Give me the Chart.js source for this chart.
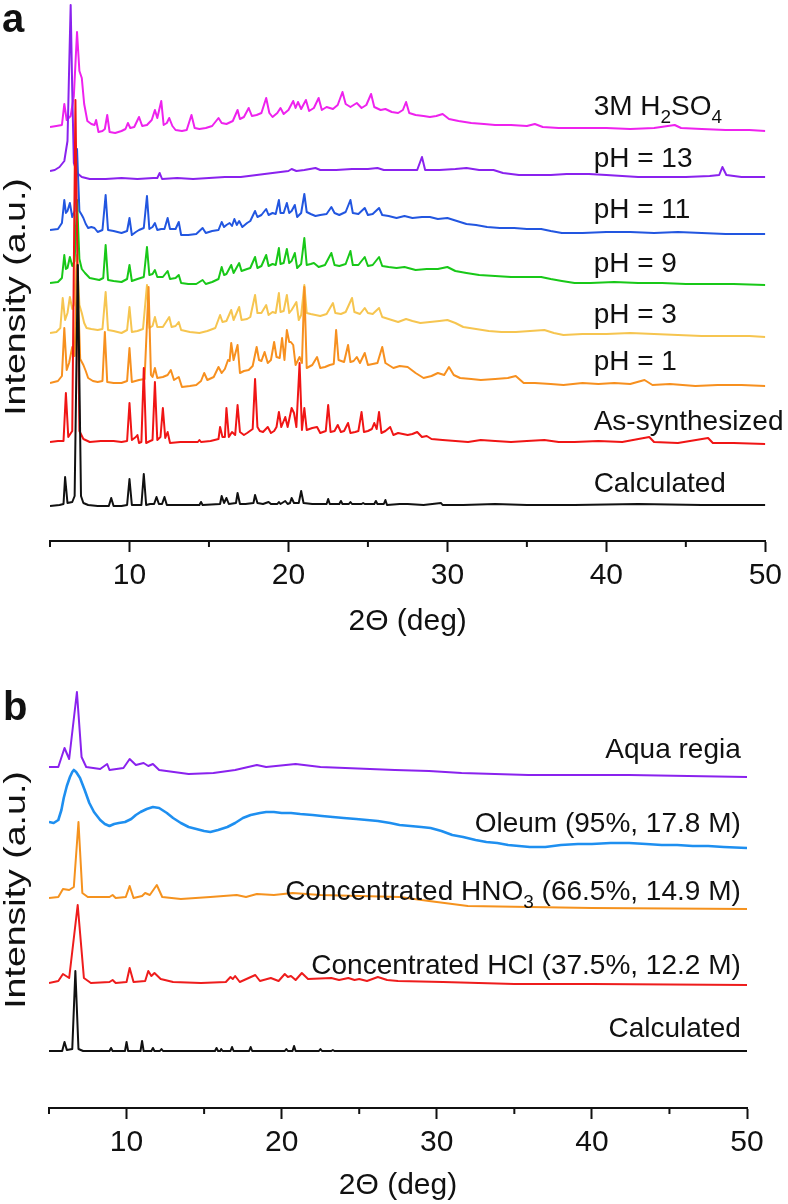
<!DOCTYPE html>
<html><head><meta charset="utf-8">
<script src="https://cdn.jsdelivr.net/npm/chart.js@4.4.1/dist/chart.umd.min.js"></script>
<style>
html,body{margin:0;padding:0;background:#fff;}
#wrap{position:relative;width:788px;height:1204px;overflow:hidden;background:#fff;}
#ca{position:absolute;left:0;top:0;}
#cb{position:absolute;left:0;top:660px;}
</style></head><body>
<div id="wrap">
<canvas id="ca" width="788" height="660"></canvas>
<canvas id="cb" width="788" height="544"></canvas>
</div>
<script>
// ---------- axis ----------
const thetaMin = 5, thetaMax = 50;
const tickStep = 5;
const labelledTicks = [10, 20, 30, 40, 50];
const xTitle = '2\u0398 (deg)';
const yTitle = 'Intensity (a.u.)';

// ---------- panel a : [2theta, stacked intensity] ----------
const a_calculated = [[5,35],[5.6,36],[5.85,37],[5.95,64],[6.1,38],[6.4,39],[6.55,45],[6.75,276],[6.95,45],[7.1,38],[7.4,36],[8.0,35],[8.7,35],[8.85,43],[9.0,35],[9.5,35],[9.85,36],[10.0,62],[10.15,36],[10.5,36],[10.75,36],[10.9,67],[11.05,36],[11.3,37],[11.55,37],[11.7,44],[11.85,37],[12.05,37],[12.2,44],[12.35,36],[13.0,36],[14.4,36],[14.5,39],[14.6,36],[15.7,37],[15.8,45],[15.95,38],[16.1,43],[16.25,37],[16.7,38],[16.8,48],[16.95,37],[17.3,37],[17.8,38],[17.9,46],[18.05,38],[18.4,37],[18.75,39],[18.9,37],[19.3,37],[19.4,39],[19.5,37],[19.8,40],[19.95,37],[20.1,38],[20.2,43],[20.35,38],[20.65,38],[20.8,50],[20.95,38],[21.5,37],[22.4,37],[22.5,42],[22.6,37],[23.2,37],[23.3,40],[23.4,37],[23.8,37],[23.9,39],[24.0,37],[24.6,37],[24.7,38],[24.8,37],[25.4,37],[25.5,40],[25.6,37],[26.0,37],[26.1,41],[26.2,36],[27.0,37],[27.5,37],[28.5,36],[29.6,38],[29.7,36],[31,36],[33,37],[35,36],[38,36],[42,37],[46,36],[50,36]];
const a_asSynthesized = [[5,99],[5.5,100],[5.85,100],[6.0,148],[6.15,104],[6.4,110],[6.6,441],[6.85,110],[7.1,102],[7.5,99],[8.2,100],[9.0,100],[9.5,99],[9.85,100],[10.0,138],[10.15,101],[10.4,104],[10.5,106],[10.6,98],[10.75,99],[10.9,173],[11.05,98],[11.3,100],[11.45,101],[11.6,159],[11.75,101],[11.95,104],[12.1,133],[12.25,103],[12.4,109],[12.55,98],[13.2,99],[14.3,99],[14.4,101],[14.5,99],[15.1,100],[15.6,102],[15.7,114],[15.85,104],[16.0,104],[16.1,133],[16.25,104],[16.45,109],[16.65,106],[16.8,136],[16.95,109],[17.2,106],[17.4,108],[17.75,112],[17.9,162],[18.05,114],[18.2,110],[18.4,109],[18.7,114],[18.9,108],[19.1,110],[19.25,114],[19.4,129],[19.55,114],[19.8,124],[19.95,114],[20.2,133],[20.35,128],[20.5,114],[20.7,178],[20.85,111],[21.0,133],[21.15,111],[21.5,113],[21.8,114],[22.0,108],[22.35,110],[22.5,136],[22.65,109],[22.9,110],[23.1,116],[23.3,109],[23.5,110],[23.75,118],[23.9,108],[24.2,109],[24.4,110],[24.6,129],[24.75,109],[25.0,110],[25.25,112],[25.4,118],[25.55,112],[25.7,129],[25.85,108],[26.1,110],[26.4,114],[26.6,106],[26.9,108],[27.2,107],[27.5,106],[27.8,107],[28.1,109],[28.4,104],[28.7,105],[29.0,102],[29.7,101],[30.5,100],[31.3,99],[32.1,101],[33,100],[34,99],[35,100],[36.1,101],[37,99],[38,99],[39.5,100],[41,99],[42.7,104],[43,99],[44.5,98],[46.4,103],[46.7,98],[48,98],[50,97]];
const a_pH1 = [[5,158],[5.5,160],[5.75,165],[5.9,213],[6.05,171],[6.2,178],[6.4,194],[6.55,185],[6.7,276],[6.9,182],[7.1,176],[7.25,170],[7.4,163],[7.7,160],[8.0,159],[8.3,160],[8.45,209],[8.6,159],[9.0,158],[9.5,158],[9.85,160],[10.0,193],[10.15,159],[10.6,161],[10.95,162],[11.2,254],[11.35,166],[11.45,164],[11.6,173],[11.75,163],[12.1,164],[12.4,166],[12.6,171],[12.8,161],[13.1,164],[13.3,154],[13.8,155],[14.2,156],[14.5,160],[14.7,168],[14.9,161],[15.3,164],[15.6,174],[15.8,168],[16.0,172],[16.2,181],[16.3,180],[16.4,198],[16.55,181],[16.8,196],[16.95,168],[17.2,170],[17.5,171],[17.75,175],[18.0,194],[18.15,181],[18.3,180],[18.5,189],[18.7,178],[18.9,181],[19.1,199],[19.25,184],[19.45,183],[19.6,203],[19.75,181],[19.9,211],[20.05,199],[20.15,199],[20.3,196],[20.45,176],[20.7,184],[20.85,178],[21.0,254],[21.15,173],[21.5,176],[21.8,184],[22.0,173],[22.3,174],[22.6,176],[22.85,177],[23.0,211],[23.15,181],[23.5,179],[23.75,196],[23.9,179],[24.1,180],[24.3,184],[24.5,178],[24.8,188],[25.0,176],[25.3,177],[25.6,178],[25.9,194],[26.1,178],[26.6,173],[27.0,175],[27.5,174],[28.0,168],[28.5,163],[29.0,165],[29.4,168],[29.8,166],[30.1,174],[30.4,166],[30.8,163],[31.5,162],[32.1,161],[33.0,162],[33.8,163],[34.3,165],[34.8,158],[35.5,158],[36.5,157],[37.3,156],[38.5,158],[39.5,157],[40.5,158],[41.5,157],[42.4,161],[42.9,156],[44,157],[45.6,155],[47,156],[48.5,156],[50,155]];
const a_pH3 = [[5,208],[5.4,209],[5.65,213],[5.8,243],[5.95,221],[6.1,228],[6.25,244],[6.4,232],[6.5,236],[6.7,286],[6.85,236],[7.0,228],[7.15,218],[7.3,213],[7.6,212],[8.0,211],[8.3,212],[8.5,249],[8.65,211],[9.0,210],[9.5,208],[9.85,211],[10.0,234],[10.15,209],[10.5,210],[10.85,212],[11.1,256],[11.25,213],[11.45,215],[11.6,224],[11.75,214],[12.1,214],[12.5,224],[12.65,214],[12.9,215],[13.1,219],[13.25,211],[13.8,209],[14.4,208],[14.9,210],[15.4,213],[15.7,226],[15.85,219],[16.1,220],[16.4,231],[16.55,221],[16.9,234],[17.05,221],[17.4,222],[17.6,224],[17.9,246],[18.05,228],[18.3,228],[18.6,236],[18.75,226],[19.0,229],[19.2,228],[19.4,248],[19.5,229],[19.7,230],[19.9,246],[20.05,228],[20.2,231],[20.5,239],[20.65,221],[20.8,226],[21.0,256],[21.15,228],[21.4,227],[21.7,226],[22.0,225],[22.4,227],[22.8,238],[22.95,228],[23.3,227],[23.6,229],[24.0,243],[24.15,229],[24.5,227],[24.8,233],[25.0,228],[25.3,227],[25.7,233],[25.9,224],[26.3,222],[26.9,219],[27.4,222],[27.8,220],[28.3,218],[28.9,219],[29.5,220],[30.0,221],[30.5,218],[31.0,214],[31.8,212],[32.6,210],[33.4,209],[34.3,209],[35.2,210],[36.1,211],[36.7,208],[37.3,206],[38.5,207],[40,207],[41.5,208],[43,207],[44.5,206],[46,205],[47.5,205],[49,205],[50,204]];
const a_pH9 = [[5,258],[5.5,259],[5.75,263],[5.9,286],[6.0,272],[6.1,273],[6.25,284],[6.4,275],[6.55,280],[6.7,341],[6.85,282],[7.0,272],[7.2,268],[7.5,263],[7.8,262],[8.1,261],[8.35,263],[8.5,296],[8.65,261],[9.0,260],[9.5,259],[9.85,262],[10.0,276],[10.15,260],[10.5,262],[10.9,264],[11.1,294],[11.25,266],[11.45,267],[11.6,271],[11.75,264],[12.1,264],[12.4,270],[12.55,262],[12.9,263],[13.1,266],[13.25,258],[13.7,257],[14.2,257],[14.6,261],[14.8,257],[15.2,259],[15.6,262],[15.8,274],[15.95,266],[16.1,267],[16.4,276],[16.55,268],[16.9,278],[17.05,270],[17.4,272],[17.6,273],[17.9,284],[18.05,273],[18.3,275],[18.6,286],[18.75,275],[19.0,277],[19.2,276],[19.4,293],[19.5,277],[19.7,278],[19.9,292],[20.05,278],[20.2,280],[20.4,288],[20.55,273],[20.8,277],[21.0,303],[21.15,276],[21.4,277],[21.6,278],[21.9,274],[22.3,276],[22.7,288],[22.9,276],[23.2,275],[23.6,277],[23.9,290],[24.05,276],[24.4,276],[24.8,284],[25.0,275],[25.3,276],[25.7,284],[25.9,275],[26.3,274],[26.8,273],[27.3,274],[28.0,271],[28.7,272],[29.4,272],[30.0,274],[30.5,270],[31.2,268],[32.0,266],[33.0,265],[34.0,264],[35.0,264],[35.9,264],[36.5,262],[37.2,260],[38.0,258],[39,258],[40.5,259],[42,258],[43.5,258],[45,257],[46.5,257],[48,257],[50,256]];
const a_pH11 = [[5,311],[5.5,312],[5.75,318],[5.9,341],[6.0,328],[6.1,330],[6.25,338],[6.4,324],[6.55,330],[6.7,392],[6.85,330],[7.0,326],[7.1,323],[7.25,317],[7.4,313],[7.6,314],[7.8,313],[8.0,309],[8.3,311],[8.5,346],[8.65,311],[9.0,310],[9.5,308],[9.85,310],[10.0,323],[10.15,306],[10.4,309],[10.6,311],[10.9,313],[11.1,345],[11.25,312],[11.45,314],[11.6,318],[11.75,311],[12.0,312],[12.2,312],[12.4,323],[12.55,312],[12.9,312],[13.1,319],[13.25,306],[13.7,306],[14.2,307],[14.6,313],[14.8,308],[15.2,310],[15.6,311],[15.8,319],[15.95,314],[16.1,316],[16.3,318],[16.45,315],[16.6,322],[16.75,316],[16.9,320],[17.1,314],[17.4,318],[17.6,320],[17.9,330],[18.05,324],[18.3,326],[18.6,332],[18.75,326],[19.0,328],[19.2,327],[19.4,341],[19.5,328],[19.7,328],[19.9,338],[20.05,328],[20.2,330],[20.4,336],[20.55,324],[20.8,328],[21.0,347],[21.15,329],[21.4,327],[21.7,325],[22.0,326],[22.4,327],[22.7,334],[22.9,328],[23.2,326],[23.6,329],[23.9,341],[24.05,328],[24.4,327],[24.8,333],[25.0,326],[25.3,327],[25.7,333],[25.9,326],[26.3,325],[26.8,323],[27.3,325],[27.8,323],[28.4,324],[28.9,324],[29.4,322],[30.0,323],[30.6,320],[31.2,317],[31.8,316],[32.5,314],[33.3,313],[34.2,313],[35.0,312],[35.9,312],[36.5,310],[37.2,308],[38.5,308],[40,309],[41.5,309],[43,308],[44.5,309],[46,308],[47.5,307],[49,307],[50,307]];
const a_pH13 = [[5,370],[5.3,371],[5.6,374],[5.9,380],[6.1,400],[6.2,470],[6.3,536],[6.4,450],[6.5,378],[6.7,368],[7.0,364],[7.5,362],[8.5,362],[9.5,363],[10.5,362],[11.5,363],[11.75,363],[11.9,368],[12.05,362],[13,363],[14,362],[15,363],[16,364],[17,364],[18,366],[19,368],[20,370],[20.2,372],[20.5,370],[21,371],[21.7,373],[22,371],[23,371],[24,372],[25,372],[25.6,373],[26,371],[27,371],[28.1,371],[28.4,384],[28.6,371],[29.5,371],[30.5,372],[31.2,373],[32,371],[32.9,371],[33.5,368],[34.5,366],[35.5,366],[36.5,366],[37.5,367],[38.9,367],[40,366],[41,365],[42,364],[43.5,364],[45,364],[46.5,365],[47.1,366],[47.3,374],[47.55,366],[48.5,364],[50,364]];
const a_H2SO4 = [[5,414],[5.4,415],[5.75,416],[5.9,437],[6.05,421],[6.3,425],[6.5,445],[6.7,509],[6.85,470],[7.0,463],[7.15,437],[7.35,420],[7.6,417],[7.8,416],[7.9,421],[8.05,409],[8.3,410],[8.45,412],[8.6,426],[8.75,409],[9.1,408],[9.5,410],[9.75,412],[9.9,418],[10.05,413],[10.3,414],[10.6,424],[10.8,415],[11.1,416],[11.4,421],[11.6,431],[11.75,423],[12.0,440],[12.15,416],[12.35,418],[12.5,423],[12.7,415],[12.9,411],[13.3,410],[13.6,411],[13.9,426],[14.1,413],[14.4,412],[14.8,413],[15.2,415],[15.6,423],[15.8,418],[16.1,417],[16.5,420],[16.8,431],[16.95,422],[17.2,424],[17.5,433],[17.7,425],[18.0,426],[18.3,428],[18.6,443],[18.8,428],[19.0,424],[19.3,428],[19.5,433],[19.7,427],[20.0,431],[20.3,440],[20.45,433],[20.6,439],[20.8,432],[21.1,441],[21.3,430],[21.6,433],[21.9,443],[22.1,431],[22.4,434],[22.8,432],[23.1,436],[23.4,449],[23.6,437],[23.9,434],[24.3,438],[24.6,433],[24.9,436],[25.2,447],[25.4,434],[25.8,431],[26.1,432],[26.5,429],[26.9,428],[27.2,431],[27.4,439],[27.6,428],[28.0,426],[28.5,425],[28.9,424],[29.3,425],[29.7,427],[30.1,422],[30.7,420],[31.5,418],[32.3,417],[33.0,416],[34.0,416],[35.0,415],[35.5,417],[36.0,414],[37.0,413],[38.5,413],[40.0,413],[41.5,412],[43.0,413],[44.3,416],[44.7,413],[46.0,412],[47.5,411],[49.0,411],[50,410]];

// ---------- panel b ----------
const b_calculated = [[5,57],[5.85,57],[6.0,66],[6.15,58],[6.5,59],[6.7,137],[6.9,59],[7.2,57],[8.9,57],[9.0,60],[9.1,57],[9.9,57],[10.0,66],[10.1,57],[10.9,57],[11.0,67],[11.1,57],[11.6,57],[11.7,60],[11.8,57],[12.15,57],[12.25,59],[12.35,57],[15.7,57],[15.8,60],[15.9,57],[16.05,57],[16.1,59],[16.2,57],[16.7,57],[16.8,61],[16.9,57],[17.9,57],[18.0,61],[18.1,57],[20.2,57],[20.3,59],[20.4,57],[20.7,57],[20.8,62],[20.9,57],[22.4,57],[22.5,59],[22.6,57],[23.2,57],[23.3,58],[23.4,57],[50,57]];
const b_HCl = [[5,125],[5.6,127],[5.9,134],[6.3,130],[6.85,203],[7.25,130],[7.7,125],[8.9,126],[9.1,128],[9.3,125],[10.0,126],[10.2,140],[10.45,126],[11.2,127],[11.4,137],[11.6,132],[11.8,135],[12.2,129],[13.0,126],[14.8,125],[16.4,126],[16.7,131],[16.85,129],[17.0,132],[17.3,126],[18.3,133],[18.6,127],[19.3,130],[19.8,127],[20.2,134],[20.4,131],[20.6,132],[20.9,128],[21.3,135],[21.7,129],[23.2,130],[23.7,128],[24.3,130],[24.7,128],[25.0,129],[25.5,127],[26.2,131],[26.8,128],[27.5,127],[30.4,126],[35,124],[40,124],[50,123]];
const b_HNO3 = [[5,210],[5.6,211],[5.9,219],[6.3,218],[6.6,221],[6.9,286],[7.15,215],[7.5,211],[8.9,211],[9.1,213],[9.3,210],[9.95,211],[10.2,222],[10.45,210],[11.0,212],[11.2,215],[11.5,213],[11.95,223],[12.3,211],[13.5,209],[15.4,211],[17.1,213],[17.7,211],[18.4,214],[19.5,213],[20.7,215],[22.5,213],[27.6,211],[29.5,207],[32,202],[40,200],[50,199]];
const b_oleum = [[5,286],[5.3,285],[5.6,288],[5.8,298],[5.95,310],[6.15,322],[6.35,331],[6.5,336],[6.6,338],[6.75,336],[7.0,330],[7.3,318],[7.6,305],[7.9,296],[8.3,288],[8.6,284],[8.9,282],[9.2,284],[9.5,285],[9.9,286],[10.3,289],[10.6,293],[10.9,296],[11.3,299],[11.7,301],[12.1,300],[12.6,295],[13.0,290],[13.5,285],[14.0,281],[14.5,279],[15.0,277],[15.4,276],[15.9,278],[16.5,281],[17.0,285],[17.5,290],[18.0,293],[18.6,295],[19.0,296],[19.5,296],[20.0,295],[20.6,295],[21.2,294],[22.0,293],[22.6,292],[23.3,291],[24.0,290],[24.8,289],[25.5,288],[26.2,287],[27.0,285],[27.6,283],[28.3,282],[29.0,281],[29.6,280],[30.3,277],[31.0,273],[31.7,271],[32.5,268],[33.2,266],[33.9,265],[34.6,263],[35.3,262],[36.0,261],[37.0,261],[38.0,263],[39.1,264],[40.0,264],[41.2,265],[42.4,265],[43.5,264],[44.5,263],[45.5,263],[46.5,262],[47.5,262],[48.5,261],[50,260]];
const b_aquaRegia = [[5,341],[5.6,341],[6.0,360],[6.3,349],[6.8,416],[7.1,351],[7.4,341],[8.3,339],[8.75,344],[8.9,338],[9.8,340],[10.2,349],[10.6,343],[11.1,345],[11.4,342],[11.7,344],[12.1,338],[14.0,334],[15.6,335],[17.0,338],[18.4,343],[19.0,341],[20.9,344],[22.5,341],[27.3,338],[29.5,337],[31.6,335],[35.9,333],[42.4,333],[50,331]];

// ---------- series names / labels ----------
const a_names = ['Calculated','As-synthesized','pH = 1','pH = 3','pH = 9','pH = 11','pH = 13','3M H2SO4'];
const a_labelY = [49, 111, 171, 218, 269, 323, 374, 426];
const a_labelX = 39.2;
const b_names = ['Calculated','Concentrated HCl (37.5%, 12.2 M)','Concentrated HNO3 (66.5%, 14.9 M)','Oleum (95%, 17.8 M)','Aqua regia'];
const b_labelY = [71, 134, 208, 276, 350];
const b_labelX = 49.6;

const a_series = [a_calculated, a_asSynthesized, a_pH1, a_pH3, a_pH9, a_pH11, a_pH13, a_H2SO4];
const b_series = [b_calculated, b_HCl, b_HNO3, b_oleum, b_aquaRegia];
const a_colors = ['#111111','#f01515','#f7901f','#f6c550','#18c818','#2256e0','#8a22ee','#ee22ee'];
const b_colors = ['#111111','#ee1c1c','#f5921e','#1e8ff0','#8a22ee'];
const b_widths = [2, 2, 2, 2.6, 2];

const FONT = '"Liberation Sans", Arial, Helvetica, sans-serif';

function richParts(s) {
  if (s.indexOf('H2SO4') >= 0) return [['3M H',0],['2',1],['SO',0],['4',1]];
  if (s.indexOf('HNO3') >= 0) { const i = s.indexOf('HNO3'); return [[s.slice(0,i+3),0],['3',1],[s.slice(i+4),0]]; }
  return [[s,0]];
}

function makeChart(canvasId, series, colors, widths, names, labelX, labelY, labelAlign, opts) {
  const datasets = series.map((arr, i) => ({
    label: names[i],
    data: arr.map(p => ({x: p[0], y: p[1]})),
    borderColor: colors[i],
    borderWidth: widths ? widths[i] : 2,
    borderJoinStyle: 'round',
    pointRadius: 0,
    tension: 0,
    fill: false
  }));
  const overlay = {
    id: 'overlay',
    afterDraw(chart) {
      const ctx = chart.ctx, xs = chart.scales.x, ys = chart.scales.y;
      ctx.save();
      ctx.strokeStyle = '#111'; ctx.lineWidth = 2;
      for (let v = thetaMin; v <= thetaMax; v += tickStep) {
        if (labelledTicks.indexOf(v) >= 0) continue;
        const px = xs.getPixelForValue(v);
        ctx.beginPath(); ctx.moveTo(px, xs.top); ctx.lineTo(px, xs.top + 6); ctx.stroke();
      }
      ctx.fillStyle = '#111';
      ctx.textBaseline = 'alphabetic';
      names.forEach((name, i) => {
        const parts = richParts(name);
        const big = '28px ' + FONT, small = '19px ' + FONT;
        let w = 0;
        parts.forEach(p => { ctx.font = p[1] ? small : big; w += ctx.measureText(p[0]).width; });
        let x = xs.getPixelForValue(labelX);
        if (labelAlign === 'right') x -= w;
        const y = ys.getPixelForValue(labelY[i]);
        ctx.textAlign = 'left';
        parts.forEach(p => {
          ctx.font = p[1] ? small : big;
          ctx.fillText(p[0], x, y + (p[1] ? 8 : 0));
          x += ctx.measureText(p[0]).width;
        });
      });
      ctx.font = 'bold 40px ' + FONT;
      ctx.textAlign = 'left';
      ctx.fillText(opts.letter, opts.letterX, opts.letterY);
      ctx.translate(opts.yTitleX, opts.yTitleY);
      ctx.rotate(-Math.PI / 2);
      ctx.scale(1.25, 1);
      ctx.font = '30px ' + FONT;
      ctx.textAlign = 'center';
      ctx.fillText(yTitle, 0, 0);
      ctx.restore();
    }
  };
  return new Chart(document.getElementById(canvasId), {
    type: 'line',
    data: { datasets },
    options: {
      responsive: false,
      animation: false,
      events: [],
      layout: { padding: opts.padding },
      plugins: { legend: { display: false }, tooltip: { enabled: false } },
      scales: {
        x: {
          type: 'linear', min: thetaMin, max: thetaMax,
          afterFit: s => { s.height = opts.axisHeight; },
          border: { display: true, color: '#111', width: 2 },
          grid: {
            drawOnChartArea: false, drawTicks: true, tickLength: 11, tickWidth: 2,
            tickColor: c => (c.tick && labelledTicks.indexOf(c.tick.value) >= 0) ? '#111' : 'rgba(0,0,0,0)'
          },
          ticks: {
            stepSize: tickStep, autoSkip: false, maxRotation: 0, minRotation: 0, padding: 6,
            color: '#111', font: { family: FONT, size: 30 },
            callback: v => labelledTicks.indexOf(v) >= 0 ? String(v) : ''
          },
          title: { display: true, text: xTitle, color: '#111', font: { family: FONT, size: 30 }, padding: { top: 0, bottom: 0 } }
        },
        y: { type: 'linear', display: false, min: 0, max: opts.yMax }
      }
    },
    plugins: [overlay]
  });
}

makeChart('ca', a_series, a_colors, null, a_names, a_labelX, a_labelY, 'left',
  { padding: { left: 50, right: 18, top: 0, bottom: 20 }, axisHeight: 99, yMax: 541,
    letter: 'a', letterX: 2, letterY: 32, yTitleX: 25, yTitleY: 297 });
makeChart('cb', b_series, b_colors, b_widths, b_names, b_labelX, b_labelY, 'right',
  { padding: { left: 49, right: 41, top: 0, bottom: 0 }, axisHeight: 96, yMax: 448,
    letter: 'b', letterX: 3, letterY: 60, yTitleX: 25, yTitleY: 230 });
</script>
</body></html>
